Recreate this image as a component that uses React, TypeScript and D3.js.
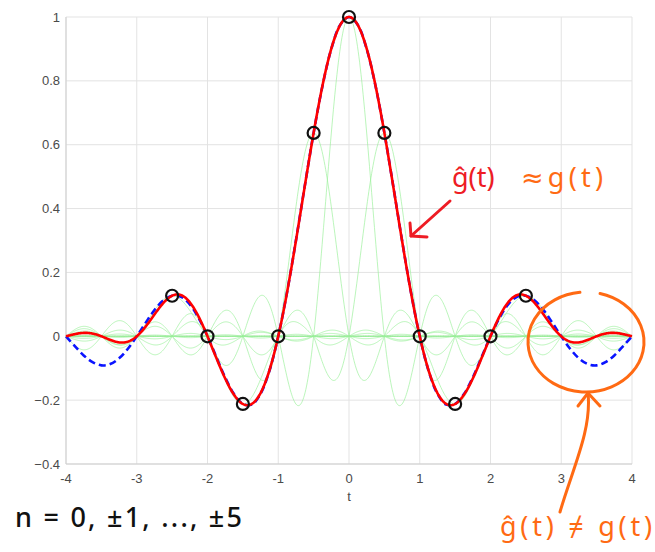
import * as d3 from "d3";

// samples g(nT), T = 0.5, n = -5..5
const sampleT = [-2.5, -2, -1.5, -1, -0.5, 0, 0.5, 1, 1.5, 2, 2.5];
const sampleG = [0.127, 0, -0.212, 0, 0.637, 1, 0.637, 0, -0.212, 0, 0.127];
const samplePeriod = 0.5;

// original g(t), read every 0.125 from t = -4 to 4
const trueStart = -4;
const trueStep = 0.125;
const trueG = [
  0, -0.031, -0.06, -0.081, -0.091, -0.087, -0.069, -0.039,
  0, 0.042, 0.082, 0.112, 0.127, 0.124, 0.1, 0.057,
  0, -0.065, -0.129, -0.181, -0.212, -0.214, -0.18, -0.108,
  0, 0.139, 0.3, 0.471, 0.637, 0.784, 0.9, 0.975,
  1,
  0.975, 0.9, 0.784, 0.637, 0.471, 0.3, 0.139, 0,
  -0.108, -0.18, -0.214, -0.212, -0.181, -0.129, -0.065, 0,
  0.057, 0.1, 0.124, 0.127, 0.112, 0.082, 0.042, 0,
  -0.039, -0.069, -0.087, -0.091, -0.081, -0.06, -0.031, 0,
];

const xTicks = [-4, -3, -2, -1, 0, 1, 2, 3, 4];
const yTicks = [-0.4, -0.2, 0, 0.2, 0.4, 0.6, 0.8, 1];

const width = 655;
const height = 552;
const marginLeft = 66;
const marginRight = 23;
const marginTop = 17;
const marginBottom = 88;

const sinc = (u: number) => (u === 0 ? 1 : Math.sin(Math.PI * u) / (Math.PI * u));

export default function App() {
  const x = d3.scaleLinear().domain([-4, 4]).range([marginLeft, width - marginRight]);
  const y = d3.scaleLinear().domain([-0.4, 1]).range([height - marginBottom, marginTop]);

  const tFine = d3.range(-4, 4.0001, 0.01);
  // one sinc term per sample
  const terms = sampleT.map((tn, k) =>
    tFine.map(t => [t, sampleG[k] * sinc((t - tn) / samplePeriod)] as [number, number])
  );
  const recon = tFine.map((t, i) => [t, d3.sum(terms, tr => tr[i][1])] as [number, number]);
  const truePts = trueG.map((g, i) => [trueStart + i * trueStep, g] as [number, number]);

  const line = d3.line<[number, number]>().x(d => x(d[0])).y(d => y(d[1]));
  const smooth = d3
    .line<[number, number]>()
    .x(d => x(d[0]))
    .y(d => y(d[1]))
    .curve(d3.curveCatmullRom);

  const x0 = marginLeft;
  const x1 = width - marginRight;
  const y0 = height - marginBottom;
  const y1 = marginTop;

  // orange ring around the tail, in data units
  const ringCx = x(3.35);
  const ringCy = y(-0.018);
  const rx = 58;
  const ry = 50;
  const a0 = (-76 * Math.PI) / 180;
  const a1 = (-96 * Math.PI) / 180;
  const ringPath =
    `M${ringCx + rx * Math.cos(a0)},${ringCy + ry * Math.sin(a0)} ` +
    `A${rx},${ry} 0 1 1 ${ringCx + rx * Math.cos(a1)},${ringCy + ry * Math.sin(a1)}`;

  const red = "#ee1c24";
  const orange = "#ff6a13";
  const hand = "'Noto Sans', 'DejaVu Sans', sans-serif";

  return (
    <svg
      width={width}
      height={height}
      style={{ position: "absolute", left: 0, top: 0, background: "#fff" }}
    >
      {/* grid */}
      <g stroke="#e3e3e3" strokeWidth={1}>
        {xTicks.map(t => (
          <line key={"gx" + t} x1={x(t)} x2={x(t)} y1={y1} y2={y0} />
        ))}
        {yTicks.map(t => (
          <line key={"gy" + t} x1={x0} x2={x1} y1={y(t)} y2={y(t)} />
        ))}
      </g>
      <g stroke="#cfcfcf" strokeWidth={1}>
        <line x1={x0} x2={x1} y1={y0} y2={y0} />
        <line x1={x0} x2={x0} y1={y1} y2={y0} />
      </g>

      {/* tick labels */}
      <g fontFamily="'Liberation Sans', Arial, sans-serif" fontSize={13} fill="#4a4a4a">
        {yTicks.map(t => (
          <text key={"ly" + t} x={x0 - 6} y={y(t)} dy="0.35em" textAnchor="end">
            {t === 0 ? "0" : d3.format("")(+t.toFixed(1))}
          </text>
        ))}
        {xTicks.map(t => (
          <text key={"lx" + t} x={x(t)} y={y0 + 19} textAnchor="middle">
            {t}
          </text>
        ))}
        <text x={x(0)} y={y0 + 37} textAnchor="middle">t</text>
      </g>

      {/* individual sinc terms */}
      <g fill="none" stroke="#9af09a" strokeWidth={0.9} strokeOpacity={0.75}>
        {terms.map((tr, k) => (
          <path key={"term" + k} d={line(tr) ?? ""} />
        ))}
      </g>

      {/* original g(t) */}
      <path
        d={smooth(truePts) ?? ""}
        fill="none"
        stroke="#0a14ff"
        strokeWidth={2.6}
        strokeDasharray="7,4"
      />

      {/* reconstruction */}
      <path d={line(recon) ?? ""} fill="none" stroke="#ff0000" strokeWidth={2.6} />

      {/* samples */}
      {sampleT.map((t, k) => (
        <circle
          key={"s" + k}
          cx={x(t)}
          cy={y(sampleG[k])}
          r={6}
          fill="none"
          stroke="#111"
          strokeWidth={2.2}
        />
      ))}

      {/* annotations */}
      <g fontFamily={hand} fontSize={27}>
        <text x={452} y={187} fill={red}>ĝ(t)</text>
        <text x={521} y={187} fill={orange} textLength={82} lengthAdjust="spacing">≈g(t)</text>
        <text x={500} y={536} fill={orange} textLength={152} lengthAdjust="spacing">
          ĝ(t) ≠ g(t)
        </text>
        <text x={15} y={527} fill="#111" fontWeight={500} fontSize={27} textLength={227} lengthAdjust="spacing">
          n = 0, ±1, ..., ±5
        </text>
      </g>

      <g fill="none" stroke={red} strokeWidth={3} strokeLinecap="round" strokeLinejoin="round">
        <path d="M450,201 L411,236" />
        <path d="M410,223 L411,236 L427,237" />
      </g>

      <g fill="none" stroke={orange} strokeWidth={3} strokeLinecap="round" strokeLinejoin="round">
        <path d={ringPath} />
        <path d="M560,512 C572,470 592,430 588,393" />
        <path d="M578,406 L588,393 L600,406" />
      </g>
    </svg>
  );
}
